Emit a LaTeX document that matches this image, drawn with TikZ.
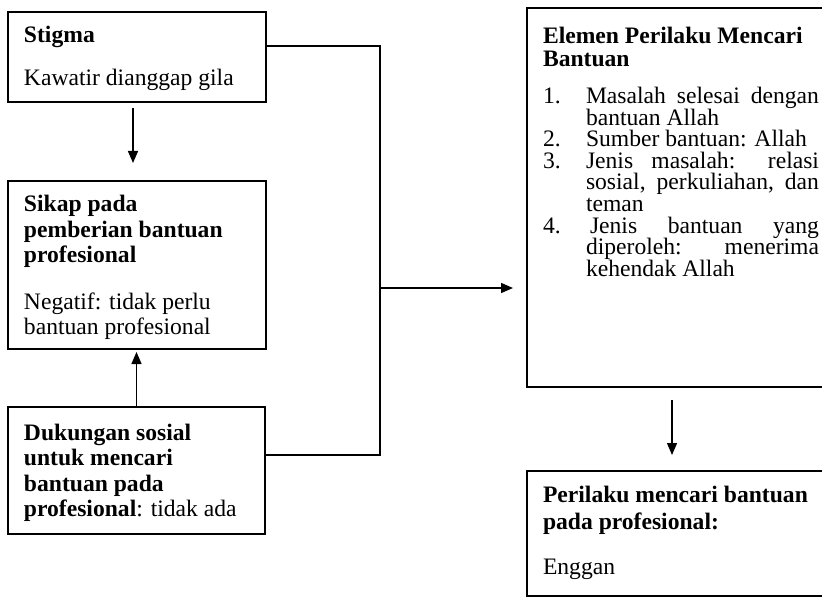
\documentclass[tikz,border=0pt]{standalone}
\usepackage{fontspec}
\setmainfont{Liberation Serif}
\usetikzlibrary{arrows.meta,calc}
\newcommand\justline[2]{\makebox[#1][s]{#2}}
\begin{document}
\begin{tikzpicture}[x=0.5pt,y=-0.5pt,
  box/.style={draw,line width=0.7pt,anchor=north west,inner sep=0pt,outer sep=0pt},
  txt/.style={anchor=base west,inner sep=0pt,outer sep=0pt,font=\fontsize{11.8pt}{14pt}\selectfont},
  btxt/.style={anchor=base west,inner sep=0pt,outer sep=0pt,font=\fontsize{11.8pt}{14pt}\selectfont\bfseries},
  conn/.style={line width=0.7pt},
  arr/.style={conn,-{Triangle[length=6pt,width=5pt]}}]
\useasboundingbox (0,0) rectangle (822,598);

% boxes
\node[box,minimum width=129pt,minimum height=45pt] (stigma) at (8,12) {};
\node[box,minimum width=129pt,minimum height=84pt] (sikap) at (8,181) {};
\node[box,minimum width=128.5pt,minimum height=63.5pt] (dukungan) at (8,407) {};
\node[box,minimum width=156.5pt,minimum height=189.5pt] (elemen) at (527,8) {};
\node[box,minimum width=156.5pt,minimum height=62.5pt] (perilaku) at (527,471) {};

% stigma text
\node[btxt] (st1) at (24,43) {Stigma};
\node[txt] (st2) at (24,86) {Kawatir dianggap gila};

% sikap text
\node[btxt] (si1) at (24,212) {Sikap pada};
\node[btxt] (si2) at (24,238) {pemberian bantuan};
\node[btxt] (si3) at (24,263) {profesional};
\node[txt] (si4) at (24,309) {Negatif: tidak perlu};
\node[txt] (si5) at (24,334) {bantuan profesional};

% dukungan text
\node[btxt] (du1) at (24,440) {Dukungan sosial};
\node[btxt] (du2) at (24,465) {untuk mencari};
\node[btxt] (du3) at (24,491) {bantuan pada};
\node[txt] (du4) at (24,516) {\textbf{profesional}: tidak ada};

% elemen text
\node[btxt] (el1) at (543,44) {Elemen Perilaku Mencari};
\node[btxt] (el2) at (543,67) {Bantuan};
\node[txt] (n1) at (543,104) {1.};
\node[txt] (n2) at (543,147) {2.};
\node[txt] (n3) at (543,169) {3.};
\node[txt] (n4) at (543,234) {4.};
\node[txt] (i1a) at (586,104) {\justline{116.5pt}{Masalah selesai dengan}};
\node[txt] (i1b) at (586,126) {bantuan Allah};
\node[txt] (i2a) at (586,147) {Sumber bantuan: Allah};
\node[txt] (i3a) at (586,169) {\justline{116.5pt}{Jenis masalah: relasi}};
\node[txt] (i3b) at (586,190) {\justline{116.5pt}{sosial, perkuliahan, dan}};
\node[txt] (i3c) at (586,212) {teman};
\node[txt] (i4a) at (590,234) {\justline{114.5pt}{Jenis bantuan yang}};
\node[txt] (i4b) at (586,255) {\justline{116.5pt}{diperoleh: menerima}};
\node[txt] (i4c) at (586,276) {kehendak Allah};

% perilaku text
\node[btxt] (pe1) at (543,502) {Perilaku mencari bantuan};
\node[btxt] (pe2) at (543,529) {pada profesional:};
\node[txt] (pe3) at (543,574) {Enggan};

% connectors
\coordinate (jx) at (380,0);
\coordinate (jm) at (380,288);
\coordinate (s1) at ([yshift=5.5pt]stigma.east);
\coordinate (d1) at ([yshift=7.75pt]dukungan.east);
\draw[conn] (s1) -- (s1 -| jx) -- (d1 -| jx) -- (d1);
\draw[arr] (jm) -- ([xshift=-7pt]elemen.west |- jm);

\draw[arr] ([xshift=-2pt,yshift=-3pt]stigma.south) -- ([xshift=-2pt,yshift=9pt]sikap.north);
\draw[arr] (dukungan.north) -- ([yshift=-1.5pt]dukungan.north |- sikap.south);
\draw[arr] ([xshift=-5.75pt,yshift=-6.5pt]elemen.south) -- ([xshift=-5.75pt,yshift=8pt]perilaku.north);
\end{tikzpicture}
\end{document}
